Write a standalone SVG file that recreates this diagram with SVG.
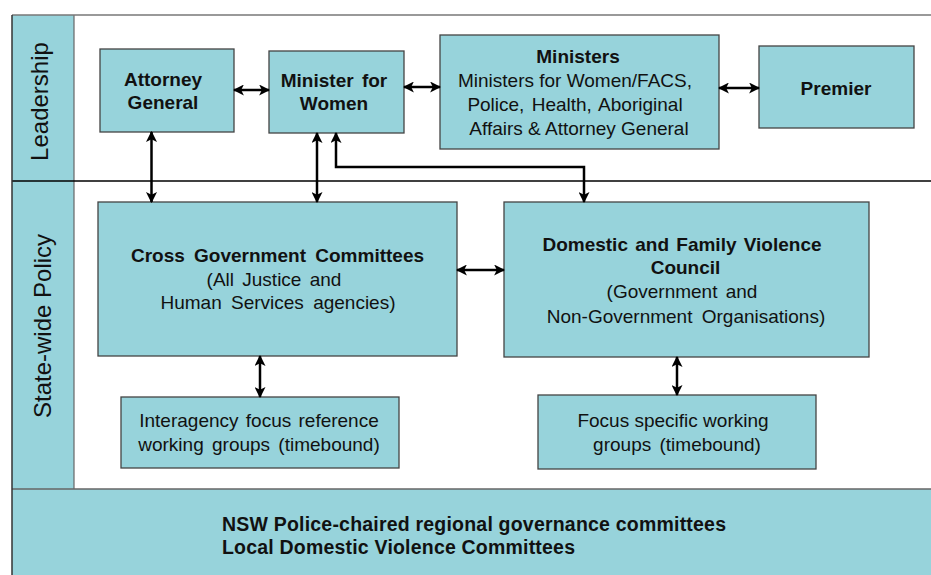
<svg xmlns="http://www.w3.org/2000/svg" width="931" height="575" viewBox="0 0 931 575">
  <defs>
    <style>
      .band { fill: #97d3db; }
      .box { fill: #97d3db; stroke: #444; stroke-width: 1.3; }
      .t { font-family: "Liberation Sans", Arial, sans-serif; fill: #111; text-anchor: middle; }
      .b { font-weight: bold; }
      .s19 { font-size: 19px; }
      .lane { font-family: "Liberation Sans", Arial, sans-serif; font-size: 24px; fill: #111; text-anchor: middle; }
      .link { fill: none; stroke: #000; stroke-width: 2.5; marker-start: url(#head); marker-end: url(#head); }
    </style>
    <marker id="head" viewBox="0 0 10 10" refX="9" refY="5" markerWidth="11" markerHeight="11" markerUnits="userSpaceOnUse" orient="auto-start-reverse">
      <path d="M0,0 L10,5 L0,10 L2.5,5 z" fill="#000"/>
    </marker>
  </defs>

  <rect width="931" height="575" fill="#fff"/>

  <!-- swimlane frame -->
  <g id="lanes">
    <rect class="band" x="12" y="15" width="62" height="474"/>
    <rect class="band" x="12" y="489" width="919" height="86"/>
    <line x1="74" y1="15" x2="74" y2="489" stroke="#666" stroke-width="1.2"/>
    <line x1="12" y1="15" x2="931" y2="15" stroke="#777" stroke-width="1.5"/>
    <line x1="12" y1="181" x2="931" y2="181" stroke="#000" stroke-width="1.6"/>
    <line x1="12" y1="489" x2="931" y2="489" stroke="#666" stroke-width="1.5"/>
    <line x1="12" y1="15" x2="12" y2="575" stroke="#333" stroke-width="1.5"/>
    <text class="lane" transform="translate(48,101.5) rotate(-90)">Leadership</text>
    <text class="lane" transform="translate(51,326) rotate(-90)">State-wide  Policy</text>
  </g>

  <g id="attorney-general">
    <rect class="box" x="100" y="49" width="134" height="83"/>
    <text class="t b s19" x="163" y="86">Attorney</text>
    <text class="t b s19" x="163" y="109">General</text>
  </g>

  <g id="minister-for-women">
    <rect class="box" x="269" y="51" width="135" height="82"/>
    <text class="t b s19" x="334" y="87" word-spacing="3">Minister for</text>
    <text class="t b s19" x="334" y="110">Women</text>
  </g>

  <g id="ministers">
    <rect class="box" x="440" y="35" width="279" height="114"/>
    <text class="t b s19" x="578" y="63">Ministers</text>
    <text class="t s19" x="575" y="87">Ministers for Women/FACS,</text>
    <text class="t s19" x="575" y="111" word-spacing="2">Police, Health, Aboriginal</text>
    <text class="t s19" x="579" y="135">Affairs &amp; Attorney General</text>
  </g>

  <g id="premier">
    <rect class="box" x="759" y="46" width="155" height="82"/>
    <text class="t b s19" x="836" y="95">Premier</text>
  </g>

  <g id="cross-government-committees">
    <rect class="box" x="98" y="202" width="359" height="154"/>
    <text class="t b s19" x="277.5" y="262" word-spacing="4">Cross Government Committees</text>
    <text class="t s19" x="274" y="286" word-spacing="3">(All Justice and</text>
    <text class="t s19" x="278" y="309" word-spacing="4">Human Services agencies)</text>
  </g>

  <g id="dfv-council">
    <rect class="box" x="504" y="202" width="365" height="155"/>
    <text class="t b s19" x="682" y="251" word-spacing="2">Domestic and Family Violence</text>
    <text class="t b s19" x="685.5" y="274">Council</text>
    <text class="t s19" x="682" y="298" word-spacing="3">(Government and</text>
    <text class="t s19" x="686" y="323" word-spacing="4">Non-Government Organisations)</text>
  </g>

  <g id="interagency-working-groups">
    <rect class="box" x="121" y="397" width="278" height="71"/>
    <text class="t s19" x="259" y="427" word-spacing="2">Interagency focus reference</text>
    <text class="t s19" x="259" y="451" word-spacing="3">working groups (timebound)</text>
  </g>

  <g id="focus-working-groups">
    <rect class="box" x="538" y="395" width="278" height="74"/>
    <text class="t s19" x="673" y="427">Focus specific working</text>
    <text class="t s19" x="677" y="451" word-spacing="3">groups (timebound)</text>
  </g>

  <g id="regional-committees">
    <text class="t b" x="222" y="531" font-size="19.5" textLength="504" lengthAdjust="spacing" style="text-anchor:start">NSW Police-chaired regional governance committees</text>
    <text class="t b" x="222" y="554" font-size="19.5" textLength="353" lengthAdjust="spacing" style="text-anchor:start">Local Domestic Violence Committees</text>
  </g>

  <!-- two-way connectors -->
  <g id="connectors">
    <path class="link" d="M234,90 H269"/>
    <path class="link" d="M404,87 H440"/>
    <path class="link" d="M719,88 H759"/>
    <path class="link" d="M151.5,132 V202"/>
    <path class="link" d="M317,133 V202"/>
    <path class="link" d="M336,133 V167 H584 V202"/>
    <path class="link" d="M457,270 H504"/>
    <path class="link" d="M260,356 V397"/>
    <path class="link" d="M677,357 V395"/>
  </g>
</svg>
